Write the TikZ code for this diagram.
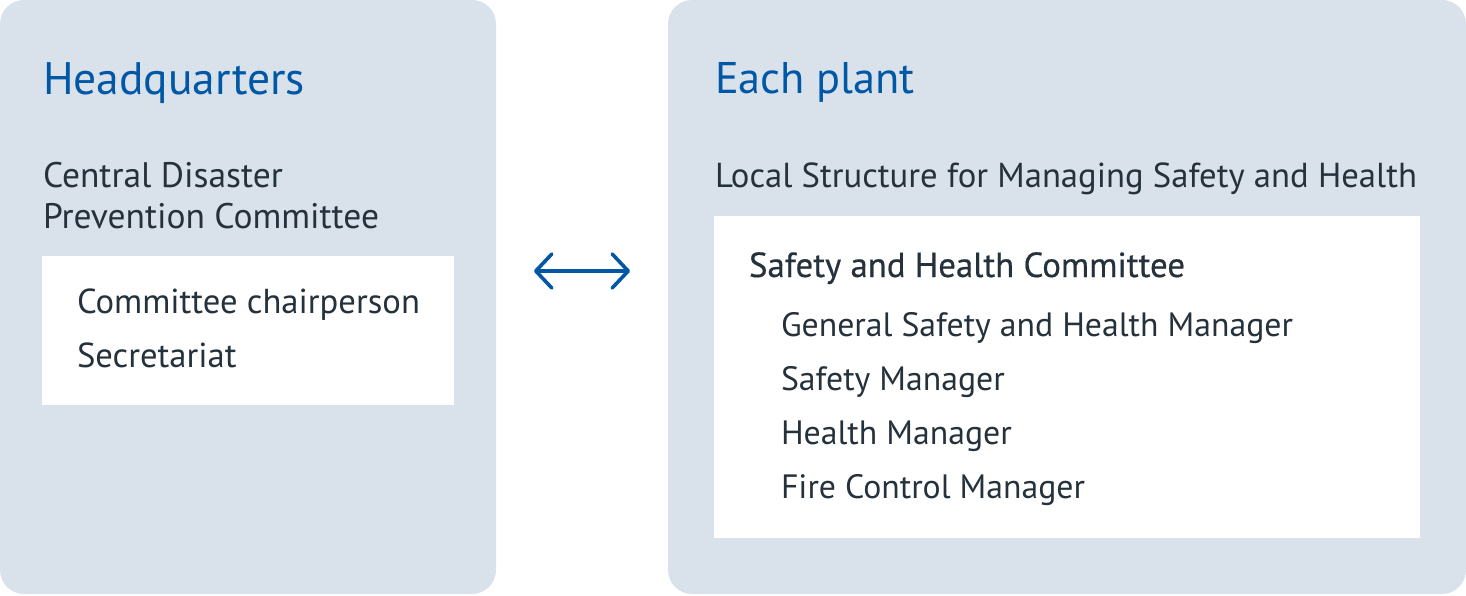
\documentclass[tikz,border=0pt]{standalone}
\usepackage{fontspec}
\usetikzlibrary{arrows.meta}
\setmainfont{PT Sans}
\newfontfamily\bodyfont{PT Sans}
\newfontfamily\medfont[FakeBold=0.5]{PT Sans}
\newcommand\calib[3]{%
  \setbox0\hbox{\fontsize{10pt}{12pt}\selectfont #3}%
  \dimen0=\wd0
  \pgfmathsetmacro#1{10*#2/\the\dimen0}}
\calib\hsz{262}{\bodyfont Headquarters}
\calib\hrsz{200}{\bodyfont Each plant}
\calib\bsz{702}{\bodyfont Local Structure for Managing Safety and Health}
\calib\csz{336}{\bodyfont Prevention Committee}
\calib\lsz{343}{\bodyfont Committee chairperson}
\calib\isz{512}{\bodyfont General Safety and Health Manager}
\calib\msz{436}{\medfont Safety and Health Committee}
\definecolor{panelbg}{HTML}{D9E1EA}
\definecolor{headblue}{HTML}{0057A6}
\definecolor{textdark}{HTML}{25323C}
\begin{document}
\begin{tikzpicture}[x=1pt,y=-1pt,
  panel/.style={fill=panelbg,draw=none,rounded corners=24pt},
  whitebox/.style={fill=white,draw=none},
  txt/.style={anchor=base west,inner sep=0pt,outer sep=0pt,text=textdark},
  heading/.style={txt,text=headblue,font=\fontsize{\hsz pt}{\hsz pt}\selectfont\bodyfont},
  headingr/.style={txt,text=headblue,font=\fontsize{\hrsz pt}{\hrsz pt}\selectfont\bodyfont},
  body/.style={txt,font=\fontsize{\bsz pt}{\bsz pt}\selectfont\bodyfont},
  cbody/.style={txt,font=\fontsize{\csz pt}{\csz pt}\selectfont\bodyfont},
  lbody/.style={txt,font=\fontsize{\lsz pt}{\lsz pt}\selectfont\bodyfont},
  item/.style={txt,font=\fontsize{\isz pt}{\isz pt}\selectfont\bodyfont},
  sub/.style={txt,font=\fontsize{\msz pt}{\msz pt}\selectfont\medfont},
  link/.style={draw=headblue,line width=3.6pt,line cap=round,
    {Straight Barb[length=16pt,width=34pt,line width=3.6pt,round]}-{Straight Barb[length=16pt,width=34pt,line width=3.6pt,round]}}
]
\useasboundingbox (0,0) rectangle (1466,596);
% panels
\path[panel] (0,0) rectangle (496,594);
\path[panel] (668,0) rectangle (1466,594);
\path[whitebox] (42,256) rectangle (454,405);
\path[whitebox] (714,216) rectangle (1420,538);
% left texts
\node[heading] (hq) at (43,95) {Headquarters};
\node[cbody] (cd1) at (43,188) {Central Disaster};
\node[cbody] (cd2) at (43,228) {Prevention Committee};
\node[lbody] (chair) at (77,313) {Committee chairperson};
\node[lbody] (sec) at (77,367) {Secretariat};
% right texts
\node[headingr] (ep) at (715,94) {Each plant};
\node[body] (ls) at (715,188) {Local Structure for Managing Safety and Health};
\node[sub] (shc) at (749,277) {Safety and Health Committee};
\node[item] (gm) at (781,336) {General Safety and Health Manager};
\node[item] (sm) at (781,390) {Safety Manager};
\node[item] (hm) at (781,444) {Health Manager};
\node[item] (fm) at (781,498) {Fire Control Manager};
% arrow
\coordinate (aL) at (534,271);
\coordinate (aR) at (630,271);
\draw[link] (aL) -- (aR);
\end{tikzpicture}
\end{document}
